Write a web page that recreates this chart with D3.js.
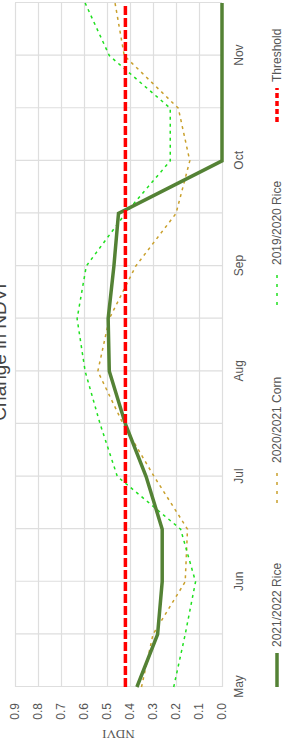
<!DOCTYPE html>
<html>
<head>
<meta charset="utf-8">
<script src="https://cdnjs.cloudflare.com/ajax/libs/d3/7.8.5/d3.min.js"></script>
<style>
body { margin: 0; background: #fff; }
text { font-family: "Liberation Sans", Arial, sans-serif; fill: #444; }
</style>
</head>
<body>
<svg width="289" height="749"></svg>
<script>
var months = ["May", "Jun", "Jul", "Aug", "Sep", "Oct", "Nov"];
// half-month steps, 0 = start of May
var steps = [0, 0.5, 1, 1.5, 2, 2.5, 3, 3.5, 4, 4.5, 5, 5.5, 6, 6.5];
var yTicks = [0, 0.1, 0.2, 0.3, 0.4, 0.5, 0.6, 0.7, 0.8, 0.9];

var rice2122 = [0.37, 0.28, 0.26, 0.26, 0.33, 0.42, 0.49, 0.495, 0.47, 0.45, 0, 0, 0, 0];
var corn2021 = [0.35, 0.30, 0.16, 0.15, 0.295, 0.43, 0.54, 0.49, 0.375, 0.20, 0.14, 0.19, 0.425, 0.465];
var rice1920 = [0.21, 0.16, 0.115, 0.18, 0.455, 0.53, 0.595, 0.63, 0.59, 0.42, 0.225, 0.225, 0.49, 0.595];
var threshold = 0.42;

var seriesNames = ["2021/2022 Rice", "2020/2021 Corn", "2019/2020 Rice", "Threshold"];

// the chart is laid out landscape, then turned a quarter to the left
var W = 749, H = 289;
var svg = d3.select("svg");
var g = svg.append("g").attr("transform", "translate(0," + W + ") rotate(-90)");

var x = d3.scaleLinear().domain([0, 6.5]).range([62, 746]),
    y = d3.scaleLinear().domain([0, 0.9]).range([222, 15]);

// grid
g.append("g")
    .attr("class", "grid")
    .attr("transform", "translate(0,222)")
    .call(d3.axisBottom(x).tickValues(steps).tickSize(-(222 - 15)).tickFormat(""));
g.append("g")
    .attr("class", "grid")
    .attr("transform", "translate(62,0)")
    .call(d3.axisLeft(y).tickValues(yTicks).tickSize(-(746 - 62)).tickFormat(""));
g.selectAll(".grid .domain").remove();
g.selectAll(".grid line").attr("stroke", "#dedede").attr("stroke-width", 1.2);

// tick labels
var xAxis = g.append("g")
    .attr("transform", "translate(0,222)")
    .call(d3.axisBottom(x).tickValues(d3.range(months.length)).tickFormat(function(i) { return months[i]; }).tickSize(0).tickPadding(12));
var yAxis = g.append("g")
    .attr("transform", "translate(62,0)")
    .call(d3.axisLeft(y).tickValues(yTicks).tickFormat(d3.format(".1f")).tickSize(0).tickPadding(16));
xAxis.select(".domain").remove();
yAxis.select(".domain").remove();
g.selectAll(".tick text").attr("font-family", null).attr("font-size", 12).style("fill", "#555");

// titles
g.append("text")
    .attr("x", 397).attr("y", 6)
    .attr("text-anchor", "middle")
    .attr("font-size", 19)
    .style("fill", "#444")
    .text("Change in NDVI");
g.append("text")
    .attr("transform", "translate(19," + (15 + 222) / 2 + ") rotate(-90)")
    .attr("text-anchor", "middle")
    .style("font-family", "'Liberation Serif', 'Times New Roman', serif")
    .attr("font-size", 13)
    .style("fill", "#555")
    .text("NDVI");

var line = d3.line()
    .x(function(d, i) { return x(steps[i]); })
    .y(function(d) { return y(d); });

var styles = [
  {color: "#548235", width: 3.5, dash: null, legendDash: null},
  {color: "#c9a02c", width: 1.5, dash: "3,4", legendDash: "3,6"},
  {color: "#1fe01f", width: 1.5, dash: "3,4", legendDash: "3,6"},
  {color: "#ff0000", width: 3.5, dash: "9,3", legendDash: "5,3"}
];

var plotData = [corn2021, rice1920, rice2122];
var order = [1, 2, 0];

g.append("g").selectAll("path")
    .data(plotData)
    .enter().append("path")
    .attr("d", line)
    .attr("fill", "none")
    .attr("stroke", function(d, i) { return styles[order[i]].color; })
    .attr("stroke-width", function(d, i) { return styles[order[i]].width; })
    .attr("stroke-dasharray", function(d, i) { return styles[order[i]].dash; });

g.append("line")
    .attr("x1", x(steps[0])).attr("x2", x(steps[steps.length - 1]))
    .attr("y1", y(threshold)).attr("y2", y(threshold))
    .attr("stroke", styles[3].color)
    .attr("stroke-width", styles[3].width)
    .attr("stroke-dasharray", styles[3].dash);

// legend
var legendX = [62, 246, 444, 627];
var legend = g.append("g").selectAll("g")
    .data(seriesNames)
    .enter().append("g")
    .attr("transform", function(d, i) { return "translate(" + legendX[i] + ",277)"; });
legend.append("line")
    .attr("x1", 0).attr("x2", 34)
    .attr("stroke", function(d, i) { return styles[i].color; })
    .attr("stroke-width", function(d, i) { return i == 0 || i == 3 ? 3.5 : 1.5; })
    .attr("stroke-dasharray", function(d, i) { return styles[i].legendDash; });
legend.append("text")
    .attr("x", 40).attr("dy", "0.35em")
    .attr("font-size", 12)
    .style("fill", "#555")
    .text(function(d) { return d; });
</script>
</body>
</html>
